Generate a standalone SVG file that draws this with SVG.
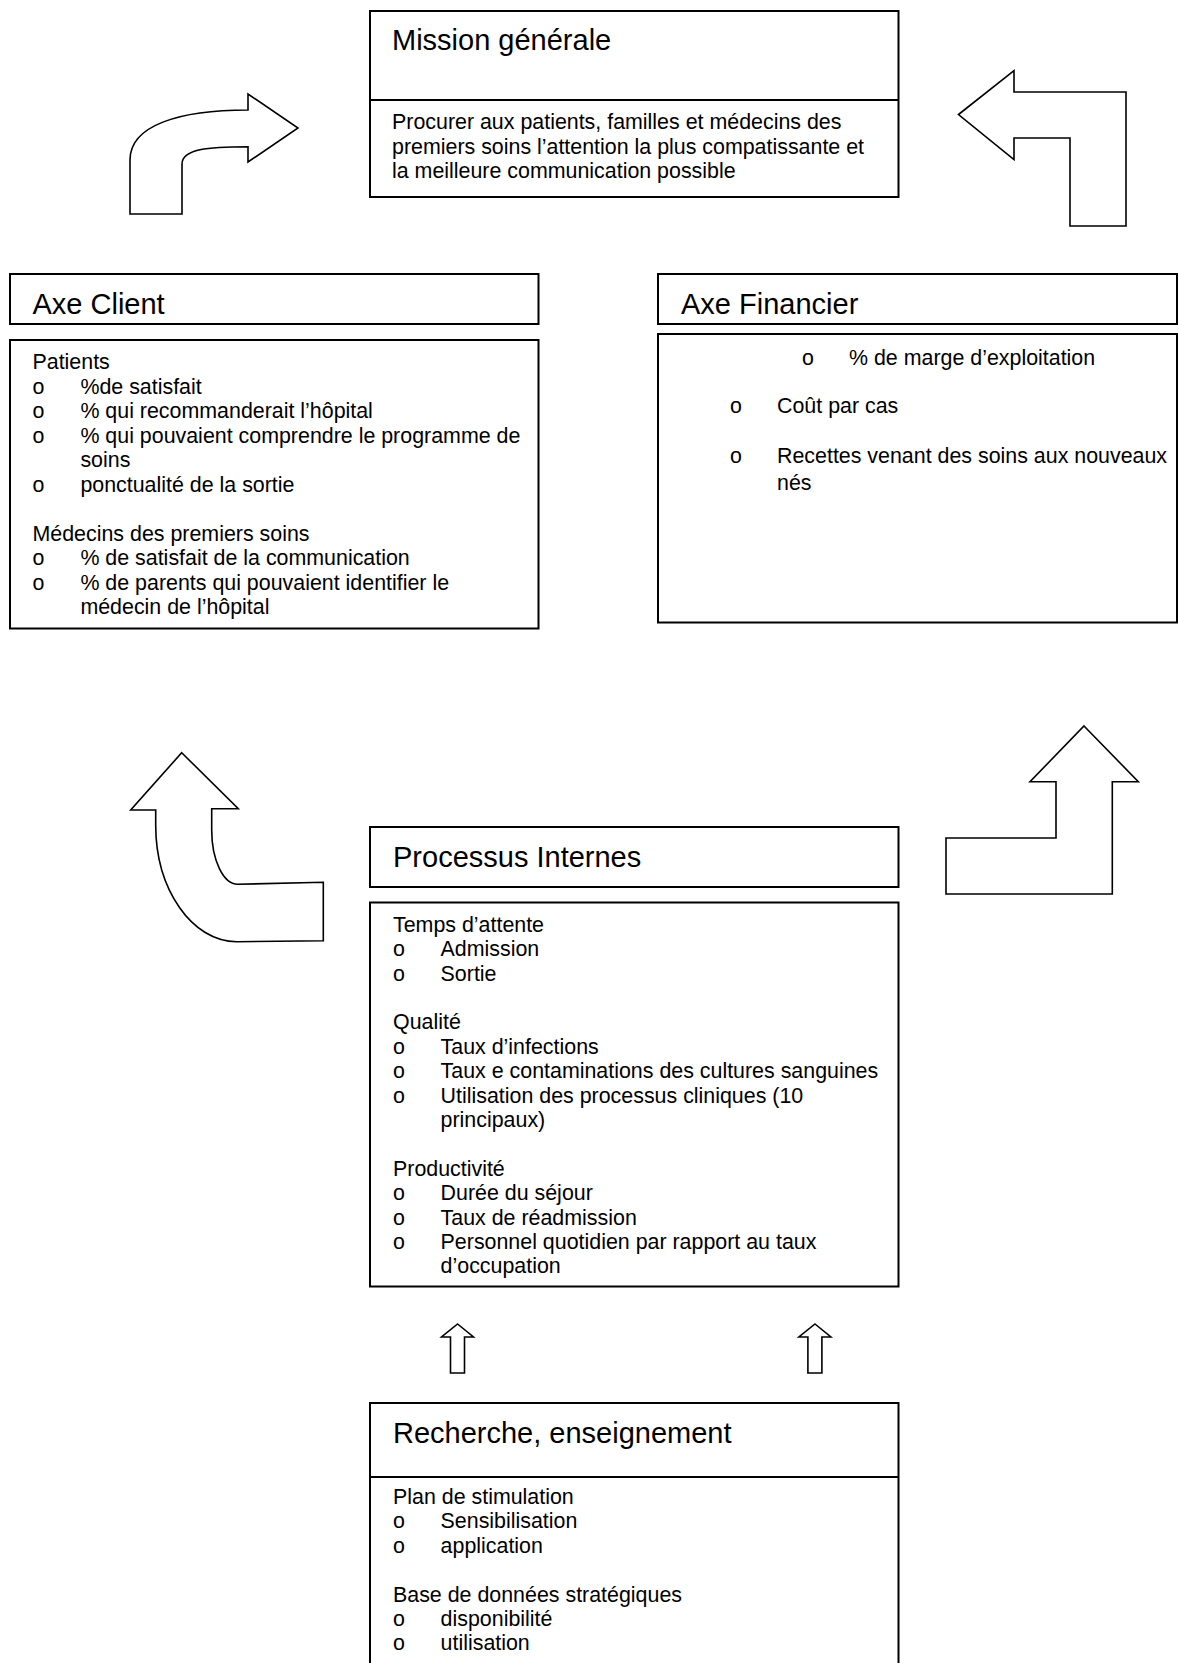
<svg xmlns="http://www.w3.org/2000/svg" width="1178" height="1663" viewBox="0 0 1178 1663">
<style>
.box{fill:#fff;stroke:#000;stroke-width:2}
.ln{stroke:#000;stroke-width:2}
.arr{fill:#fff;stroke:#000;stroke-width:1.6;stroke-linejoin:miter}
text{font-family:"Liberation Sans",Arial,sans-serif;fill:#000}
.t{font-size:29px}
.b{font-size:21.4px}
</style>
<rect width="1178" height="1663" fill="#fff"/>
<g id="connectors">
<path class="arr" d="M130,214 L130,160 C130,125 180,110 248,110 L248,94 L298,128 L248,162 L248,146.7 C208,146.7 182,149 182,164 L182,214 Z"/>
<path class="arr" d="M958.5,114.5 L1014,70.7 L1014,92 L1126,92 L1126,226 L1070,226 L1070,138 L1014,138 L1014,159.5 Z"/>
<path class="arr" d="M181.7,752.7 L238.3,808.7 L211.7,808.7 L211.7,830 C211.7,860 223.3,884.3 237.7,884.3 L323.3,882.3 L323.3,940.7 L236.7,941.7 C192.1,941.7 155.7,889.4 155.7,825 L155.7,810 L130.7,810 Z"/>
<path class="arr" d="M1084,726 L1138.3,781.7 L1112.3,781.7 L1112.3,894 L946,894 L946,838 L1056,838 L1056,781.7 L1030,781.7 Z"/>
<path class="arr" d="M457.6,1324 L473.5,1337 L464.5,1337 L464.5,1373 L450.5,1373 L450.5,1337 L441.5,1337 Z"/>
<path class="arr" d="M815,1324 L830.9,1337 L821.9,1337 L821.9,1373 L807.9,1373 L807.9,1337 L798.9,1337 Z"/>
</g>
<g id="mission">
<rect class="box" x="370" y="11" width="528.5" height="186"/>
<line class="ln" x1="370" y1="100" x2="898.5" y2="100"/>
<text class="t" x="392" y="50">Mission générale</text>
<text class="b" x="392" y="129">Procurer aux patients, familles et médecins des</text>
<text class="b" x="392" y="153.5">premiers soins l’attention la plus compatissante et</text>
<text class="b" x="392" y="178">la meilleure communication possible</text>
</g>
<g id="axe-client">
<rect class="box" x="10" y="274" width="528.5" height="50"/>
<text class="t" x="32.5" y="314">Axe Client</text>
<rect class="box" x="10" y="340" width="528.5" height="288.5"/>
<text class="b" x="32.5" y="369">Patients</text>
<text class="b" x="32.5" y="393.5">o</text><text class="b" x="80.4" y="393.5">%de satisfait</text>
<text class="b" x="32.5" y="418">o</text><text class="b" x="80.4" y="418">% qui recommanderait l’hôpital</text>
<text class="b" x="32.5" y="442.5">o</text><text class="b" x="80.4" y="442.5">% qui pouvaient comprendre le programme de</text>
<text class="b" x="80.4" y="467">soins</text>
<text class="b" x="32.5" y="491.5">o</text><text class="b" x="80.4" y="491.5">ponctualité de la sortie</text>
<text class="b" x="32.5" y="540.5">Médecins des premiers soins</text>
<text class="b" x="32.5" y="565">o</text><text class="b" x="80.4" y="565">% de satisfait de la communication</text>
<text class="b" x="32.5" y="589.5">o</text><text class="b" x="80.4" y="589.5">% de parents qui pouvaient identifier le</text>
<text class="b" x="80.4" y="614">médecin de l’hôpital</text>
</g>
<g id="axe-financier">
<rect class="box" x="658" y="274" width="519" height="50"/>
<text class="t" x="681" y="314">Axe Financier</text>
<rect class="box" x="658" y="334" width="519" height="288.5"/>
<text class="b" x="802" y="365">o</text><text class="b" x="849" y="365">% de marge d’exploitation</text>
<text class="b" x="730" y="413">o</text><text class="b" x="777" y="413">Coût par cas</text>
<text class="b" x="730" y="463">o</text><text class="b" x="777" y="463">Recettes venant des soins aux nouveaux</text>
<text class="b" x="777" y="490">nés</text>
</g>
<g id="processus-internes">
<rect class="box" x="370" y="827" width="528.5" height="60"/>
<text class="t" x="393" y="867">Processus Internes</text>
<rect class="box" x="370" y="902.5" width="528.5" height="384"/>
<text class="b" x="393" y="931.7">Temps d’attente</text>
<text class="b" x="393" y="956.1">o</text><text class="b" x="440.6" y="956.1">Admission</text>
<text class="b" x="393" y="980.5">o</text><text class="b" x="440.6" y="980.5">Sortie</text>
<text class="b" x="393" y="1029.3">Qualité</text>
<text class="b" x="393" y="1053.7">o</text><text class="b" x="440.6" y="1053.7">Taux d’infections</text>
<text class="b" x="393" y="1078.1">o</text><text class="b" x="440.6" y="1078.1">Taux e contaminations des cultures sanguines</text>
<text class="b" x="393" y="1102.5">o</text><text class="b" x="440.6" y="1102.5">Utilisation des processus cliniques (10</text>
<text class="b" x="440.6" y="1126.9">principaux)</text>
<text class="b" x="393" y="1175.7">Productivité</text>
<text class="b" x="393" y="1200.1">o</text><text class="b" x="440.6" y="1200.1">Durée du séjour</text>
<text class="b" x="393" y="1224.5">o</text><text class="b" x="440.6" y="1224.5">Taux de réadmission</text>
<text class="b" x="393" y="1248.9">o</text><text class="b" x="440.6" y="1248.9">Personnel quotidien par rapport au taux</text>
<text class="b" x="440.6" y="1273.3">d’occupation</text>
</g>
<g id="recherche-enseignement">
<rect class="box" x="370" y="1403" width="528.5" height="300"/>
<line class="ln" x1="370" y1="1477" x2="898.5" y2="1477"/>
<text class="t" x="393" y="1443">Recherche, enseignement</text>
<text class="b" x="393" y="1504">Plan de stimulation</text>
<text class="b" x="393" y="1528.4">o</text><text class="b" x="440.6" y="1528.4">Sensibilisation</text>
<text class="b" x="393" y="1552.8">o</text><text class="b" x="440.6" y="1552.8">application</text>
<text class="b" x="393" y="1601.6">Base de données stratégiques</text>
<text class="b" x="393" y="1626">o</text><text class="b" x="440.6" y="1626">disponibilité</text>
<text class="b" x="393" y="1650.4">o</text><text class="b" x="440.6" y="1650.4">utilisation</text>
</g>
</svg>
